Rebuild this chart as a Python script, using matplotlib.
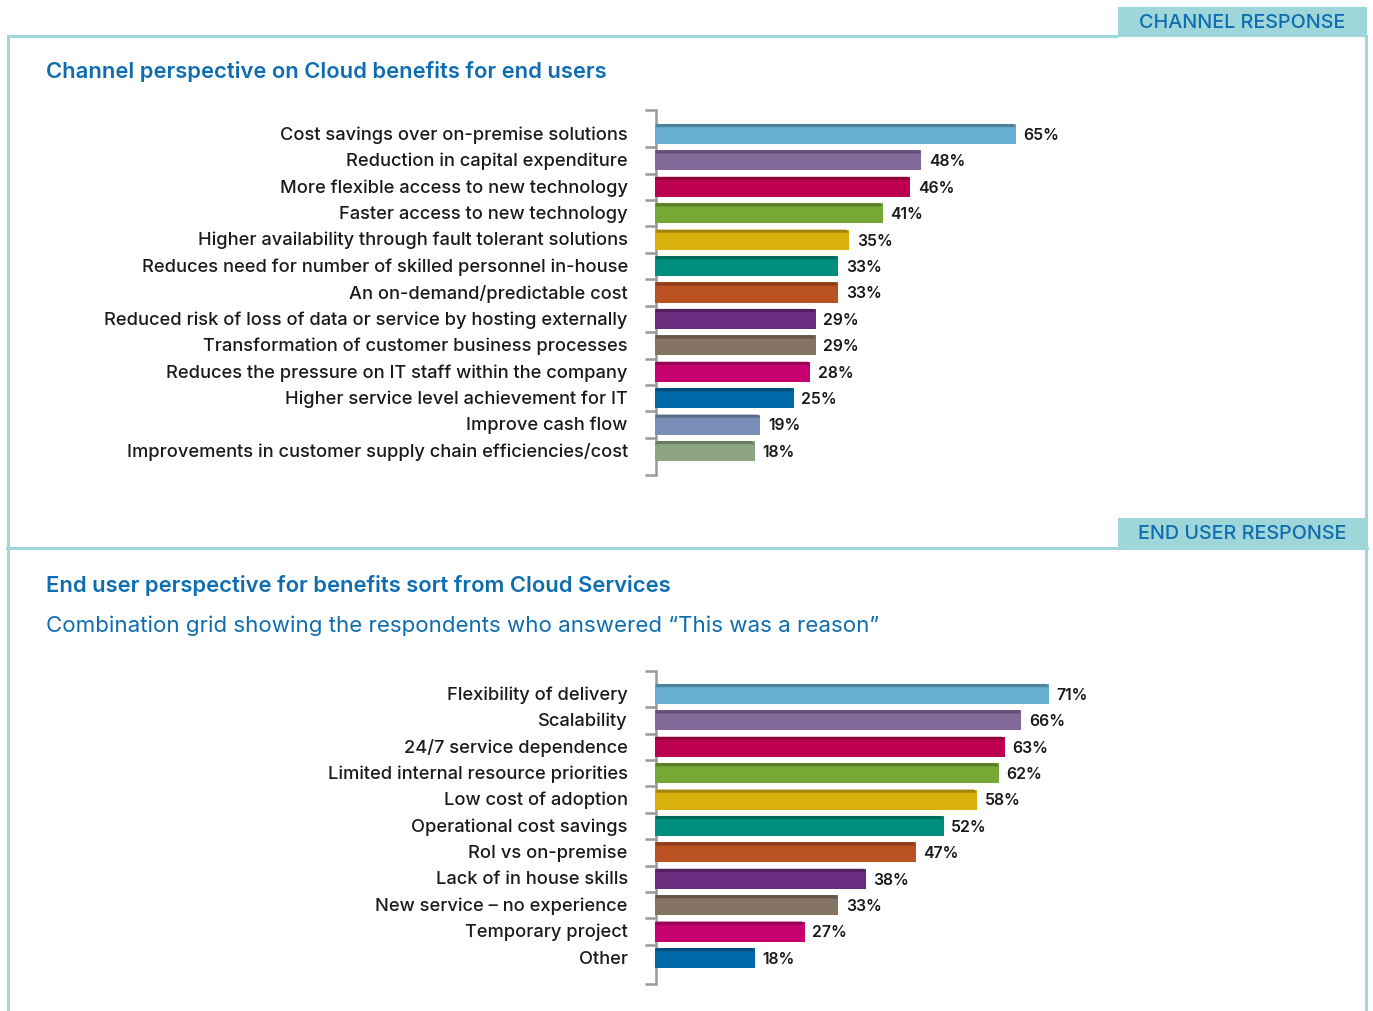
import matplotlib
matplotlib.use("Agg")
import matplotlib.pyplot as plt
from matplotlib.patches import Rectangle, Polygon
import matplotlib.colors as mcolors

plt.rcParams['font.family'] = ['Inter', 'DejaVu Sans']

# ---------------- data ----------------
channel_labels = [
    "Cost savings over on-premise solutions",
    "Reduction in capital expenditure",
    "More flexible access to new technology",
    "Faster access to new technology",
    "Higher availability through fault tolerant solutions",
    "Reduces need for number of skilled personnel in-house",
    "An on-demand/predictable cost",
    "Reduced risk of loss of data or service by hosting externally",
    "Transformation of customer business processes",
    "Reduces the pressure on IT staff within the company",
    "Higher service level achievement for IT",
    "Improve cash flow",
    "Improvements in customer supply chain efficiencies/cost",
]
channel_values = [65, 48, 46, 41, 35, 33, 33, 29, 29, 28, 25, 19, 18]

enduser_labels = [
    "Flexibility of delivery",
    "Scalability",
    "24/7 service dependence",
    "Limited internal resource priorities",
    "Low cost of adoption",
    "Operational cost savings",
    "RoI vs on-premise",
    "Lack of in house skills",
    "New service \u2013 no experience",
    "Temporary project",
    "Other",
]
enduser_values = [71, 66, 63, 62, 58, 52, 47, 38, 33, 27, 18]

bar_colors = ["#67AFD0", "#82699A", "#BE0050", "#76A836", "#D9B10C", "#008F7C",
              "#BA5321", "#6A2C7E", "#857363", "#C7006F", "#0068A6", "#7A8FB7",
              "#8EA583"]

title_top = "Channel perspective on Cloud benefits for end users"
title_bottom = "End user perspective for benefits sort from Cloud Services"
subtitle_bottom = "Combination grid showing the respondents who answered \u201cThis was a reason\u201d"
tab_top = "CHANNEL RESPONSE"
tab_bottom = "END USER RESPONSE"

TITLE_C = "#0E6DB0"
FRAME_C = "#9ED6DA"
TEXT_C = "#1A1A1A"
AXIS_C = "#9A9A9A"

W, H = 1373, 1011
fig = plt.figure(figsize=(W / 100, H / 100), dpi=100)
renderer = fig.canvas.get_renderer()


def fit_size(text, weight, target_px, base=12.0):
    t = fig.text(0, 0, text, fontsize=base, fontweight=weight)
    w = t.get_window_extent(renderer=renderer).width
    t.remove()
    return base * target_px / w


bg = fig.add_axes([0, 0, 1, 1])
bg.set_xlim(0, W)
bg.set_ylim(H, 0)
bg.axis("off")

lw = 2.2
bg.plot([7, 1118], [36, 36], color=FRAME_C, lw=lw, solid_capstyle="butt")
bg.plot([8, 8], [36, H], color=FRAME_C, lw=lw)
bg.plot([1366, 1366], [36, H], color=FRAME_C, lw=lw)
bg.plot([7, 1367], [547.5, 547.5], color=FRAME_C, lw=lw)
bg.add_patch(Rectangle((1118, 7), 249, 30, color=FRAME_C, lw=0))
bg.add_patch(Rectangle((1118, 518), 249, 30, color=FRAME_C, lw=0))

tab_fs = fit_size(tab_top, "medium", 206)
title_fs = fit_size(title_top, "semibold", 562)
sub_fs = fit_size(subtitle_bottom, "normal", 829)
label_fs = fit_size(channel_labels[-1], "medium", 501)
pct_fs = fit_size("65%", "semibold", 36)

bg.text(1242, 23, tab_top, color=TITLE_C, fontsize=tab_fs, fontweight="medium",
        ha="center", va="center")
bg.text(1242, 534, tab_bottom, color=TITLE_C, fontsize=tab_fs, fontweight="medium",
        ha="center", va="center")
bg.text(46, 71, title_top, color=TITLE_C, fontsize=title_fs, fontweight="semibold",
        ha="left", va="center")
bg.text(46, 586, title_bottom, color=TITLE_C, fontsize=title_fs, fontweight="semibold",
        ha="left", va="center")
bg.text(46, 626, subtitle_bottom, color=TITLE_C, fontsize=sub_fs, fontweight="normal",
        ha="left", va="center")

PX_PER_PCT = 5.55
X0 = 655


def draw_chart(labels, values, top_px, bottom_px, first_center, spacing):
    n = len(values)
    ax = fig.add_axes([X0 / W, 1 - bottom_px / H, 100 * PX_PER_PCT / W,
                       (bottom_px - top_px) / H])
    pad_top = (first_center - top_px) / spacing
    last_center = first_center + (n - 1) * spacing
    pad_bot = (bottom_px - last_center) / spacing
    ax.set_xlim(0, 100)
    ax.set_ylim(n - 1 + pad_bot, -pad_top)
    ax.patch.set_alpha(0)
    for s in ["top", "right", "bottom"]:
        ax.spines[s].set_visible(False)
    ax.spines["left"].set_color(AXIS_C)
    ax.spines["left"].set_linewidth(1.8)
    ax.spines["left"].set_position(("data", 0.25))
    h = 0.76
    band = 0.12
    for i, (v, c) in enumerate(zip(values, bar_colors)):
        ax.barh(i, v, height=h, color=c, left=0, zorder=3)
        dark = tuple(x * 0.75 for x in mcolors.to_rgb(c))
        yt = i - h / 2
        ax.add_patch(Polygon([(0, yt + band), (0.3, yt), (v - 0.5, yt), (v, yt + band)],
                             closed=True, color=dark, lw=0, zorder=4))
        ax.text(v + 1.35, i + 0.05, f"{v}%", va="center", ha="left",
                fontsize=pct_fs, color=TEXT_C, fontweight="semibold")
    boundaries = [-pad_top] + [i + 0.5 for i in range(n - 1)] + [n - 1 + pad_bot]
    ax.set_yticks(boundaries)
    ax.set_yticklabels([])
    ax.tick_params(axis="y", length=8, width=1.8, color=AXIS_C, direction="out")
    ax.set_xticks([])
    for i, lab in enumerate(labels):
        ax.text(-4.9, i + 0.04, lab, ha="right", va="center", fontsize=label_fs,
                color=TEXT_C, fontweight="medium")
    return ax


draw_chart(channel_labels, channel_values, 110, 475, 134, 26.42)
draw_chart(enduser_labels, enduser_values, 671, 984, 694, 26.4)

fig.savefig("out.png", dpi=100)
